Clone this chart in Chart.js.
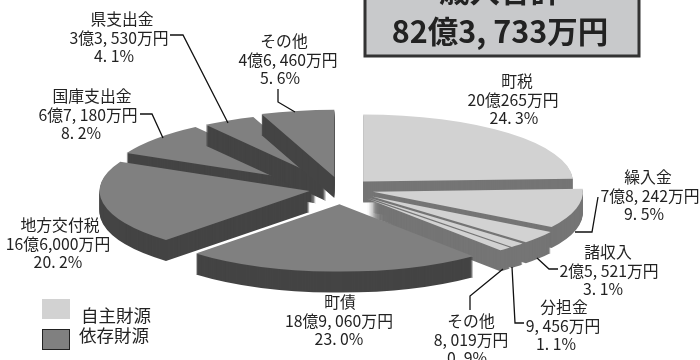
<!DOCTYPE html>
<html lang="ja">
<head>
<meta charset="utf-8">
<title>歳入合計</title>
<script src="https://cdn.jsdelivr.net/npm/chart.js@4/dist/chart.umd.min.js"></script>
<style>
  html, body { margin: 0; padding: 0; background: #fff; overflow: hidden; }
  canvas { display: block; }
</style>
</head>
<body>
<canvas id="pie" width="700" height="360"></canvas>
<script>
// revenue by source, in units of 万円
const categories = ["町税", "繰入金", "諸収入", "分担金", "その他", "町債", "地方交付税", "国庫支出金", "県支出金", "その他"];
const amounts = [200265, 78242, 25521, 9456, 8019, 189060, 166000, 67180, 33530, 46460];
const amountTexts = ["20億265万円", "7億8, 242万円", "2億5, 521万円", "9, 456万円", "8, 019万円", "18億9, 060万円", "16億6,000万円", "6億7, 180万円", "3億3, 530万円", "4億6, 460万円"];
const percentTexts = ["24. 3%", "9. 5%", "3. 1%", "1. 1%", "0. 9%", "23. 0%", "20. 2%", "8. 2%", "4. 1%", "5. 6%"];
const groupNames = ["自主財源", "依存財源"];
const titleLines = ["歳入合計", "82億3, 733万円"];

// 0 = 自主財源, 1 = 依存財源
const sliceGroup = [0, 0, 0, 0, 0, 1, 1, 1, 1, 1];

const TOP_COLORS = ["#d2d2d2", "#808080"];
const SIDE_COLORS = ["#757575", "#444444"];
const TEXT_COLOR = "#222";
const FONT = "'Noto Sans CJK JP', sans-serif";

// pie look: flattened ellipse with a pulled-out slice per category
const SQUASH = 0.32;
const DEPTH = 21;
const explode = [32, 33, 39, 39, 39, 48, 32, 33, 32, 38];
const paintOrder = [7, 8, 9, 0, 6, 1, 2, 3, 4, 5];

// x of name / amount / percent lines and y of the first line
const labelBoxes = [
  [517, 513, 514, 81],
  [648, 650, 644, 177],
  [608, 609, 603, 252],
  [564, 563, 556, 307],
  [471, 471, 467, 321],
  [340, 339, 339, 302],
  [60, 58, 58, 225],
  [92, 88, 81, 96],
  [122, 119, 114, 19],
  [284, 288, 280, 41]
];
const LINE_GAP = 18.6;

const leaders = [
  [[598, 197], [592, 232], [575, 232]],
  [[558, 269], [549, 269], [537, 258]],
  [[524, 323], [515, 323], [512, 267]],
  [[470, 310], [470, 296], [503, 269]],
  [[170, 35], [183, 35], [228, 123]],
  [[140, 114], [152, 114], [163, 138]],
  [[278, 89], [278, 102], [295, 112]]
];

// draws the slices back to front, each one with its extruded side underneath
const pie3d = {
  id: "pie3d",
  beforeDatasetDraw(chart, args) {
    const ctx = chart.ctx;
    const arcs = args.meta.data;
    paintOrder.forEach((i) => {
      const arc = arcs[i];
      const mid = (arc.startAngle + arc.endAngle) / 2;
      const base = arc.options;
      ctx.save();
      ctx.translate(arc.x, arc.y);
      ctx.scale(1, SQUASH);
      ctx.translate(-arc.x, -arc.y);
      ctx.translate(Math.cos(mid) * explode[i], Math.sin(mid) * explode[i]);
      arc.options = Object.assign({}, base, { backgroundColor: SIDE_COLORS[sliceGroup[i]] });
      for (let d = DEPTH; d > 0; d--) {
        ctx.save();
        ctx.translate(0, d / SQUASH);
        arc.draw(ctx);
        ctx.restore();
      }
      arc.options = base;
      arc.draw(ctx);
      ctx.restore();
    });
    return false;
  }
};

// title box, slice captions, leader lines and the group key
const annotations = {
  id: "annotations",
  afterDraw(chart) {
    const ctx = chart.ctx;
    ctx.save();
    ctx.textAlign = "center";
    ctx.textBaseline = "middle";

    ctx.fillStyle = "#c8c9cb";
    ctx.strokeStyle = "#333";
    ctx.lineWidth = 3;
    ctx.fillRect(365, -10, 274, 66);
    ctx.strokeRect(365, -10, 274, 66);
    ctx.fillStyle = TEXT_COLOR;
    ctx.font = "bold 30.5px " + FONT;
    ctx.fillText(titleLines[0], 500, -10);
    ctx.fillText(titleLines[1], 500, 31);

    ctx.font = "15.8px " + FONT;
    categories.forEach((name, i) => {
      const box = labelBoxes[i];
      ctx.fillText(name, box[0], box[3]);
      ctx.fillText(amountTexts[i], box[1], box[3] + LINE_GAP);
      ctx.fillText(percentTexts[i], box[2], box[3] + LINE_GAP * 2);
    });

    ctx.strokeStyle = "#111";
    ctx.lineWidth = 1.3;
    leaders.forEach((pts) => {
      ctx.beginPath();
      pts.forEach((p, j) => (j ? ctx.lineTo(p[0], p[1]) : ctx.moveTo(p[0], p[1])));
      ctx.stroke();
    });

    // key
    ctx.fillStyle = TOP_COLORS[0];
    ctx.fillRect(42, 299, 28, 20);
    ctx.fillStyle = TOP_COLORS[1];
    ctx.fillRect(42.5, 329.5, 27, 20);
    ctx.strokeStyle = "#222";
    ctx.lineWidth = 1;
    ctx.strokeRect(42.5, 329.5, 27, 20);
    ctx.fillStyle = TEXT_COLOR;
    ctx.font = "17.5px " + FONT;
    ctx.textAlign = "left";
    ctx.fillText(groupNames[0], 81, 315);
    ctx.fillText(groupNames[1], 79, 335);
    ctx.restore();
  }
};

new Chart(document.getElementById("pie"), {
  type: "pie",
  data: {
    labels: categories,
    datasets: [{
      data: amounts,
      backgroundColor: sliceGroup.map((g) => TOP_COLORS[g]),
      borderWidth: 0,
      radius: 210
    }]
  },
  options: {
    responsive: false,
    animation: false,
    layout: { padding: { right: 18, top: 18 } },
    plugins: { legend: { display: false }, tooltip: { enabled: false } }
  },
  plugins: [pie3d, annotations]
});
</script>
</body>
</html>
